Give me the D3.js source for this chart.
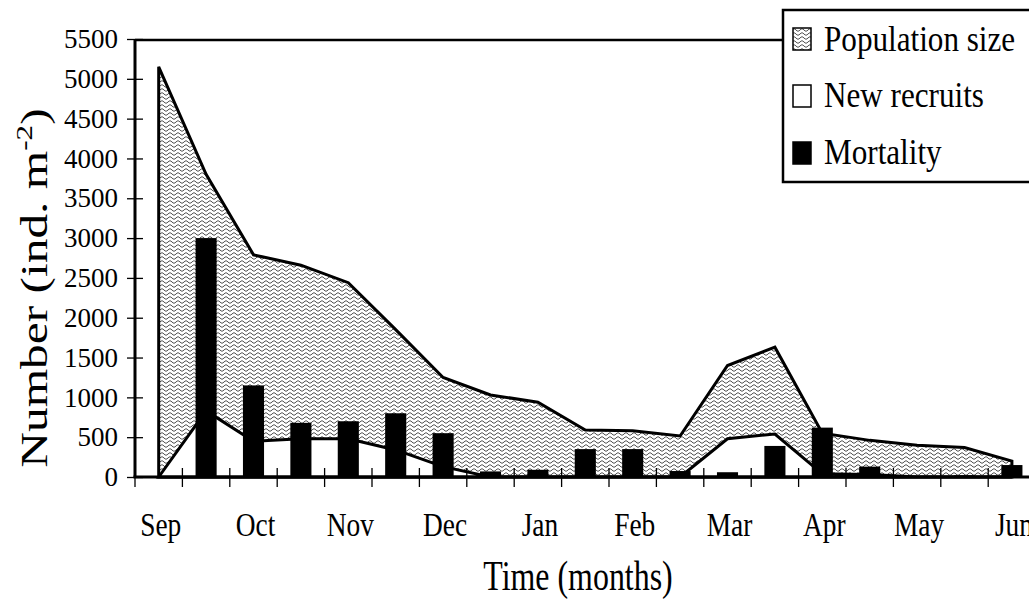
<!DOCTYPE html>
<html><head><meta charset="utf-8">
<script src="https://cdn.jsdelivr.net/npm/d3@7"></script>
<style>
body{margin:0;background:#fff}
svg{display:block}
text{font-family:"Liberation Serif","Times New Roman",serif;fill:#000}
</style>
</head><body>
<svg id="chart" width="1029" height="605"></svg>
<script>
// ---- data ----
const samples = ["Sep-1","Sep-2","Oct-1","Oct-2","Nov-1","Nov-2","Dec-1","Dec-2","Jan-1","Jan-2",
                 "Feb-1","Feb-2","Mar-1","Mar-2","Apr-1","Apr-2","May-1","May-2","Jun-1"];
const monthLabels = ["Sep","Oct","Nov","Dec","Jan","Feb","Mar","Apr","May","Jun"];
const monthSamples = ["Sep-1","Oct-1","Nov-1","Dec-1","Jan-1","Feb-1","Mar-1","Apr-1","May-1","Jun-1"];
const populationSize = [5150,3800,2790,2660,2440,1850,1250,1030,940,590,580,515,1400,1630,550,460,400,370,200];
const newRecruits   = [0,830,450,480,480,340,130,0,0,0,0,0,480,540,40,30,0,0,0];
const mortality     = [0,3000,1150,680,700,800,550,70,90,350,350,75,60,390,620,130,10,20,150];
const yTicks = [0,500,1000,1500,2000,2500,3000,3500,4000,4500,5000,5500];
const legendLabels = ["Population size","New recruits","Mortality"];
const yTitle = "Number (ind. m";
const ySup = "-2";
const xTitle = "Time (months)";

// ---- layout ----
const svg = d3.select("#chart");
const pLeft = 135, pTop = 39, pBottom = 477, bandW = 47.4;
const pRight = pLeft + samples.length * bandW;

const x = d3.scaleBand().domain(samples).range([pLeft, pRight]).padding(0);
const y = d3.scaleLinear().domain([0, 5500]).range([pBottom, pTop]);
const cx = s => x(s) + x.bandwidth() / 2;

// pattern
const defs = svg.append("defs");
const pat = defs.append("pattern").attr("id","wave").attr("patternUnits","userSpaceOnUse")
  .attr("width",8).attr("height",4);
pat.append("rect").attr("width",8).attr("height",4).attr("fill","#fff");
pat.append("path").attr("d","M0,2 C1.5,0.4 2.5,0.4 4,2 S6.5,3.6 8,2")
  .attr("fill","none").attr("stroke","#3a3a3a").attr("stroke-width",0.9);

// population area
const areaGen = d3.area().x((d,i)=>cx(samples[i])).y0(y(0)).y1(d=>y(d));
svg.append("path").datum(populationSize).attr("d", areaGen)
  .attr("fill","url(#wave)").attr("stroke","#000").attr("stroke-width",3).attr("stroke-linejoin","miter");

// recruits area
svg.append("path").datum(newRecruits).attr("d", areaGen)
  .attr("fill","#fff").attr("stroke","#000").attr("stroke-width",3);

// mortality bars
const barW = x.bandwidth() * 0.445;
svg.append("g").selectAll("rect").data(mortality).join("rect")
  .attr("x",(d,i)=>cx(samples[i]) - barW/2)
  .attr("width", barW)
  .attr("y", d=>y(d))
  .attr("height", d=>y(0)-y(d))
  .attr("fill","#000");

// top frame line
svg.append("line").attr("x1",pLeft).attr("x2",783).attr("y1",pTop+1).attr("y2",pTop+1)
  .attr("stroke","#000").attr("stroke-width",2.5);

// y axis
const yAxis = svg.append("g").attr("transform",`translate(${pLeft},0)`)
  .call(d3.axisLeft(y).tickValues(yTicks).tickSize(8).tickPadding(9).tickFormat(d3.format("d")));
yAxis.select(".domain").attr("stroke-width",3).attr("d",`M0,${pTop}V${pBottom}`);
yAxis.selectAll(".tick line").attr("x1",8).attr("x2",-8).attr("stroke-width",1.3);
yAxis.selectAll(".tick text").attr("font-size",27).attr("font-family","Liberation Serif").attr("fill","#000");

// x axis line and ticks
svg.append("line").attr("x1",pLeft-1.5).attr("x2",pRight+10).attr("y1",pBottom).attr("y2",pBottom)
  .attr("stroke","#000").attr("stroke-width",3);
svg.append("g").selectAll("line").data(samples.concat(["end"])).join("line")
  .attr("x1",d=> d==="end" ? pRight : x(d)).attr("x2",d=> d==="end" ? pRight : x(d))
  .attr("y1",pBottom-9).attr("y2",pBottom+10)
  .attr("stroke","#000").attr("stroke-width",1.3);

// month labels
svg.append("g").selectAll("text").data(monthLabels).join("text")
  .attr("transform",(d,i)=>`translate(${cx(monthSamples[i])+2},536) scale(0.83,1)`)
  .attr("text-anchor","middle").attr("font-size",33).text(d=>d);

// x title
svg.append("text").attr("transform","translate(578,590) scale(0.76,1)")
  .attr("text-anchor","middle").attr("font-size",42).text(xTitle);

// y title
const yt = svg.append("text").attr("transform","translate(47,288) rotate(-90) scale(1.3,1)")
  .attr("text-anchor","middle").attr("font-size",38);
yt.append("tspan").text(yTitle);
yt.append("tspan").attr("font-size",24).attr("dy",-15).text(ySup);
yt.append("tspan").attr("dy",15).text(")");

// legend
const lg = svg.append("g");
lg.append("rect").attr("x",783).attr("y",10).attr("width",270).attr("height",172)
  .attr("fill","#fff").attr("stroke","#000").attr("stroke-width",2.5);
const swFill = ["url(#wave)","#fff","#000"];
const swY = [28, 85, 142];
const txtY = [51, 107, 164];
lg.selectAll("rect.sw").data(legendLabels).join("rect").attr("class","sw")
  .attr("x",793).attr("y",(d,i)=>swY[i]).attr("width",18).attr("height",22)
  .attr("fill",(d,i)=>swFill[i]).attr("stroke","#000").attr("stroke-width",1.5);
lg.selectAll("text").data(legendLabels).join("text")
  .attr("transform",(d,i)=>`translate(824,${txtY[i]}) scale(0.89,1)`)
  .attr("font-size",35).text(d=>d);
</script>
</body></html>
